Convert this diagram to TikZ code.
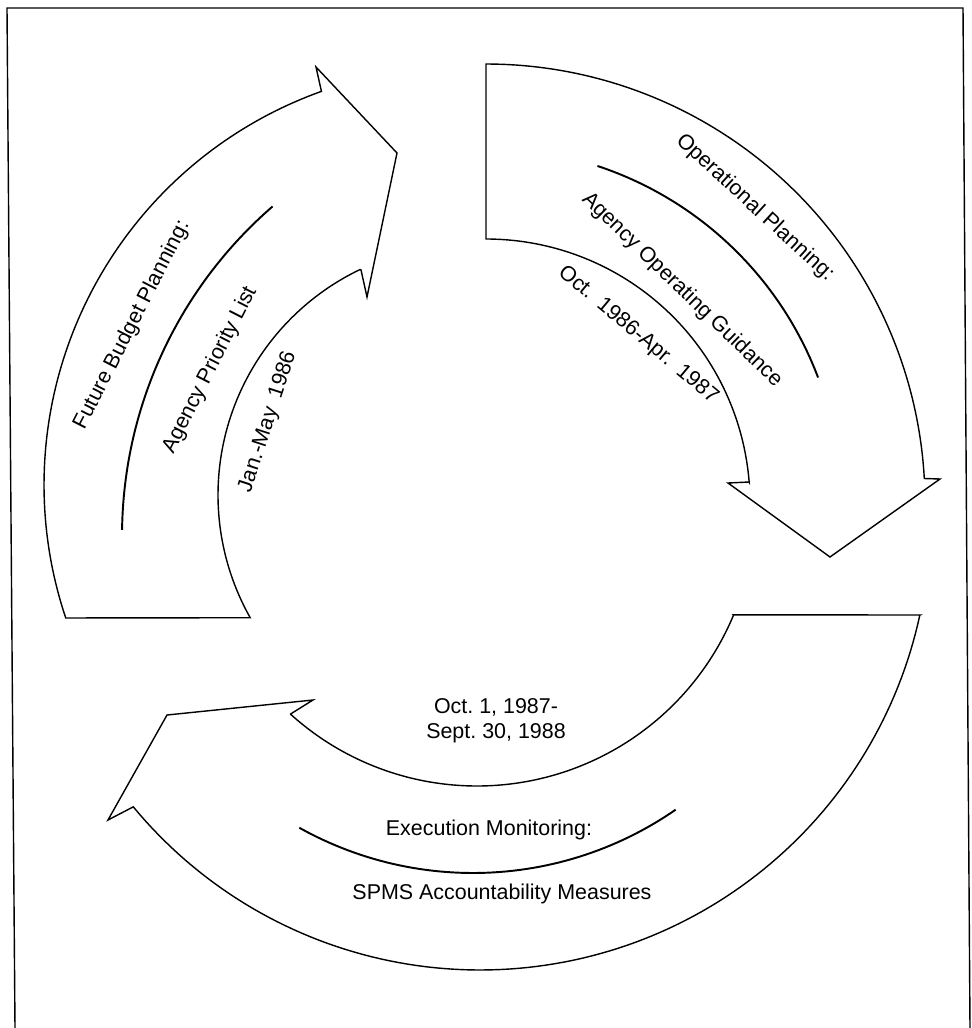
\documentclass[tikz,border=0pt]{standalone}
\usepackage{fontspec}
\setmainfont{Liberation Sans}
\frenchspacing
\begin{document}
\begin{tikzpicture}[x=0.02cm,y=-0.02cm,
  outline/.style={line width=0.8pt, line join=miter},
  midline/.style={line width=1.1pt},
  lbl/.style={font=\fontsize{12.2}{14.6}\selectfont, inner sep=0pt},
  frameline/.style={line width=0.8pt}]
\useasboundingbox (0,0) rectangle (971,1028);
\draw[frameline] (15,1028) -- (7,8) -- (963,8) -- (970,1028);

% Arrow 1: Future Budget Planning
\draw[outline] plot[domain=198.55:109.65,samples=90] ({462+418*cos(\x)},{485-418*sin(\x)})
  -- (316,67) -- (397,153) -- (367,297) -- (361,270)
  -- plot[domain=115.6:209.4,samples=90] ({468+250*cos(\x)},{495-250*sin(\x)}) -- cycle;
\draw[midline] plot[domain=130.9:179.2,samples=60] ({558+436*cos(\x)},{536-436*sin(\x)});

% Arrow 2: Operational Planning
\draw[outline] plot[domain=90:3.2,samples=90] ({486+439*cos(\x)},{503-439*sin(\x)})
  -- (940,479) -- (830,557) -- (728,483) -- (749,482)
  -- plot[domain=4.5:90,samples=90] ({486+264*cos(\x)},{503-264*sin(\x)}) -- cycle;
\draw[midline] plot[domain=71.7:20.7,samples=60] ({486+355*cos(\x)},{503-355*sin(\x)});

% Arrow 3: Execution Monitoring
\draw[outline] (733.6,614.8) -- (920,615)
  -- plot[domain=-12.2:-140.4,samples=110] ({480+450*cos(\x)},{520-450*sin(\x)})
  -- (108,820) -- (167,715) -- (313,700) -- (290.6,714)
  -- plot[domain=-132.1:-22.6,samples=110] ({477+278*cos(\x)},{508-278*sin(\x)}) -- cycle;
\draw[midline] plot[domain=-119.2:-55.3,samples=60] ({473+356*cos(\x)},{517-356*sin(\x)});

% Labels
\node[lbl, rotate=63] (t1a) at (132,325) {Future Budget Planning:};
\node[lbl, rotate=63] (t1b) at (210,370) {Agency Priority List};
\node[lbl, rotate=72] (t1c) at (268,422) {Jan.-May\hspace{0.5em}1986};
\node[lbl, rotate=-42.5] (t2a) at (755,208) {Operational Planning:};
\node[lbl, rotate=-44] (t2b) at (682,290) {Agency Operating Guidance};
\node[lbl, rotate=-40] (t2c) at (638,335) {Oct.\hspace{0.5em}1986-Apr.\hspace{0.5em}1987};
\node[lbl] (t3a) at (496,707) {Oct. 1, 1987-};
\node[lbl] (t3b) at (496,733) {Sept. 30, 1988};
\node[lbl] (t3c) at (489,830) {Execution Monitoring:};
\node[lbl] (t3d) at (502,894) {SPMS Accountability Measures};
\end{tikzpicture}
\end{document}
